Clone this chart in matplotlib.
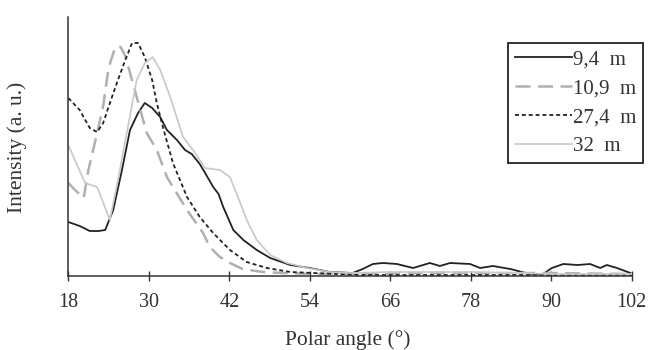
import matplotlib
matplotlib.use("Agg")
import matplotlib.pyplot as plt

plt.rcParams['font.family'] = ['Liberation Serif', 'DejaVu Serif']

# ---- data (intensity in arbitrary units) ----
ang_94 = [18, 19.7, 21.2, 22.5, 23.5, 24.7, 26.0, 27.2, 28.4, 29.4, 30.5, 31.7, 32.7,
          34.2, 35.4, 36.4, 37.6, 38.4, 39.6, 40.4, 41.1, 42.6, 44.1, 46.1, 48.1, 51.1,
          54.0, 57.0, 60.4, 61.9, 63.4, 64.9, 67.0, 69.4, 71.9, 73.4, 74.9, 77.9, 79.4,
          81.3, 83.9, 86.8, 88.8, 90.1, 91.8, 93.9, 95.8, 97.3, 98.3, 99.8, 101.8]
int_94 = [54, 50, 45, 45, 46, 66, 106, 146, 163, 173, 168, 159, 146,
          136, 126, 122, 112, 103, 89, 82, 69, 46, 36, 26, 18, 11,
          8, 4, 3, 7, 12, 13, 12, 8, 13, 10, 13, 12, 8,
          10, 7, 2, 2, 8, 12, 11, 12, 8, 11, 8, 3]

ang_109 = [18, 19.0, 20.3, 21.0, 22.3, 23.2, 24.0, 25.0, 25.8, 26.5, 28.2, 29.7, 31.2,
           32.7, 35.7, 38.1, 39.1, 40.6, 42.1, 44.0, 47.0, 50.0, 55.0, 60.0, 70.0,
           80.0, 90.0, 102.0]
int_109 = [93, 86, 78, 106, 143, 170, 208, 229, 229, 220, 179, 143, 126,
           99, 66, 43, 29, 19, 13, 7, 4, 3, 2, 2, 3,
           3, 3, 2]

ang_274 = [18, 19.7, 21.2, 22.3, 23.2, 24.2, 25.4, 26.5, 27.5, 28.4, 29.4, 30.5, 31.2,
           32.1, 33.6, 35.7, 37.6, 39.6, 42.1, 44.6, 47.6, 51.1, 54.5, 58.0, 62.0,
           70.0, 80.0, 90.0, 102.0]
int_274 = [178, 166, 148, 144, 153, 173, 196, 216, 233, 233, 219, 196, 173,
           149, 113, 79, 59, 43, 26, 14, 8, 4, 3, 2, 1,
           1, 1, 1, 1]

ang_32 = [18, 20.5, 22.3, 24.2, 25.4, 26.8, 28.2, 29.4, 30.6, 31.7, 33.2, 35.1, 36.6,
          38.4, 40.6, 42.1, 43.3, 44.6, 46.1, 48.1, 50.6, 53.6, 57.0, 60.0, 66.0,
          78.0, 85.0, 90.0, 102.0]
int_32 = [131, 93, 89, 56, 96, 146, 196, 213, 219, 206, 179, 139, 126,
          108, 106, 99, 79, 56, 36, 21, 13, 8, 4, 3, 4,
          4, 3, 2, 2]

labels = ['9,4  m', '10,9  m', '27,4  m', '32  m']
xticks = [18, 30, 42, 54, 66, 78, 90, 102]

# ---- figure ----
W, H = 648, 350
fig = plt.figure(figsize=(W / 100, H / 100), dpi=100)
ax = fig.add_axes([68.3 / W, 1 - 276 / H, (631.7 - 68.3) / W, 259 / H])

txt = '#333333'
ax.plot(ang_94, int_94, color='#222222', lw=1.3, label=labels[0])
ax.plot(ang_109, int_109, color='#b0b0b0', lw=1.8, dashes=(6, 3), label=labels[1])
ax.plot(ang_274, int_274, color='#222222', lw=1.3, dashes=(2.2, 1.6), label=labels[2])
ax.plot(ang_32, int_32, color='#c8c8c8', lw=1.2, label=labels[3])

ax.set_xlim(18, 102)
ax.set_ylim(0, 259)
ax.set_xticks(xticks)
ax.set_yticks([])
for s in ['top', 'right']:
    ax.spines[s].set_visible(False)
for s in ['left', 'bottom']:
    ax.spines[s].set_color('#333333')
    ax.spines[s].set_linewidth(1.1)
ax.tick_params(axis='x', direction='inout', length=7, width=1.0, color='#333333',
               labelsize=14.5, labelcolor=txt, pad=8.5)

fig.text(347.5 / W, 1 - 340 / H, 'Polar angle (°)', fontsize=15.5, color=txt,
         ha='center', va='center')
fig.text(17 / W, 1 - 147 / H, 'Intensity (a. u.)', fontsize=15.5, color=txt,
         ha='center', va='center', rotation=90)

leg = ax.legend(loc='upper right', bbox_to_anchor=(643 / W, 1 - 43 / H),
                bbox_transform=fig.transFigure, borderaxespad=0,
                fontsize=15, handlelength=2.75, handletextpad=0.05,
                labelspacing=0.45, borderpad=0.32,
                fancybox=False, framealpha=1, edgecolor='#222222')
leg.get_frame().set_linewidth(1.3)
for t in leg.get_texts():
    t.set_color(txt)

fig.savefig('out.png', dpi=100)
